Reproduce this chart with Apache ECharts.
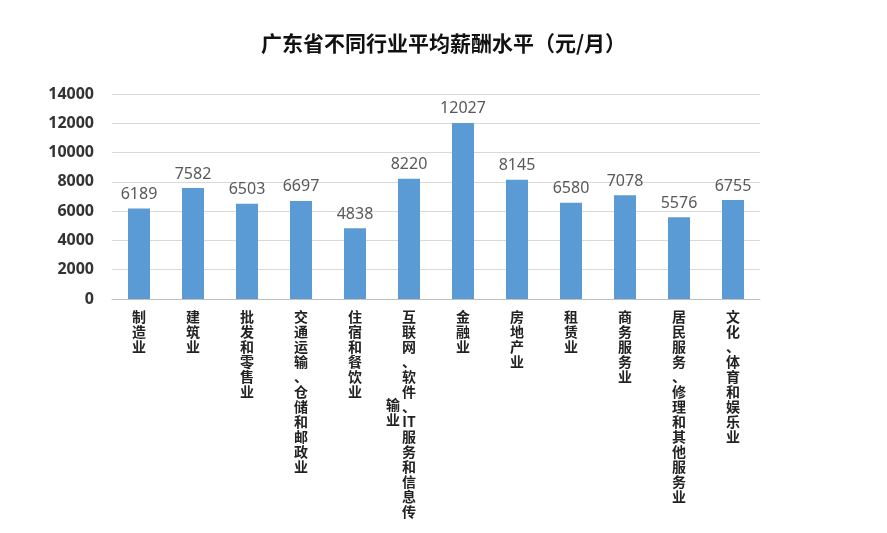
<!DOCTYPE html>
<html>
<head>
<meta charset="utf-8">
<script src="https://cdn.jsdelivr.net/npm/echarts@6/dist/echarts.min.js"></script>
<style>html,body{margin:0;padding:0;background:#fff;}#main{width:887px;height:533px;}</style>
</head>
<body>
<div id="main"></div>
<script>
const chart = echarts.init(document.getElementById("main"));

const categories = ['制造业', '建筑业', '批发和零售业', '交通运输、仓储和邮政业', '住宿和餐饮业',
	'互联网、软件、IT服务和信息传输业', '金融业', '房地产业', '租赁业', '商务服务业',
	'居民服务、修理和其他服务业', '文化、体育和娱乐业'];
const salary = [6189, 7582, 6503, 6697, 4838, 8220, 12027, 8145, 6580, 7078, 5576, 6755];

// 竖排标签：每字一行，IT 作一格，超过 14 格的部分另起一列
function verticalLabel(name) {
	let tokens = name.replace('IT', '\u0001').split('').map(c => c === '\u0001' ? 'IT' : c);
	return tokens.slice(0, 14).join('\n');
}

let option = {
	title: {
		text: '广东省不同行业平均薪酬水平（元/月）',
		left: 'center',
		top: 28,
		textStyle: {
			color: '#111',
			fontWeight: 700,
			fontFamily: 'Noto Sans CJK SC',
			fontSize: 21
		}
	},
	grid: {
		left: 112,
		right: 127,
		top: 94,
		bottom: 234
	},
	xAxis: {
		type: 'category',
		data: categories,
		axisTick: { show: false },
		axisLine: { lineStyle: { color: '#bfbfbf' } },
		axisLabel: {
			interval: 0,
			verticalAlign: 'top',
			margin: 10,
			color: '#222',
			fontSize: 14,
			fontWeight: 700,
			lineHeight: 15,
			fontFamily: 'Noto Sans CJK SC',
			formatter: verticalLabel
		}
	},
	yAxis: {
		type: 'value',
		min: 0,
		max: 14000,
		interval: 2000,
		axisLine: { show: false },
		axisTick: { show: false },
		splitLine: { lineStyle: { color: '#d9d9d9' } },
		axisLabel: {
			color: '#333',
			fontSize: 16,
			fontWeight: 700,
			margin: 18,
			fontFamily: 'Noto Sans',
			formatter: v => String(v)
		}
	},
	graphic: [{
		type: 'text',
		left: 386,
		top: 397,
		style: {
			text: '输\n业',
			fill: '#222',
			font: 'bold 14px "Noto Sans CJK SC"',
			lineHeight: 15
		}
	}],
	series: [{
		type: 'bar',
		barWidth: 22,
		data: salary,
		itemStyle: { color: '#5b9bd5' },
		label: {
			show: true,
			position: 'top',
			color: '#595959',
			fontSize: 16,
			distance: 6,
			fontFamily: 'Noto Sans'
		}
	}]
};
chart.setOption(option);
</script>
</body>
</html>
